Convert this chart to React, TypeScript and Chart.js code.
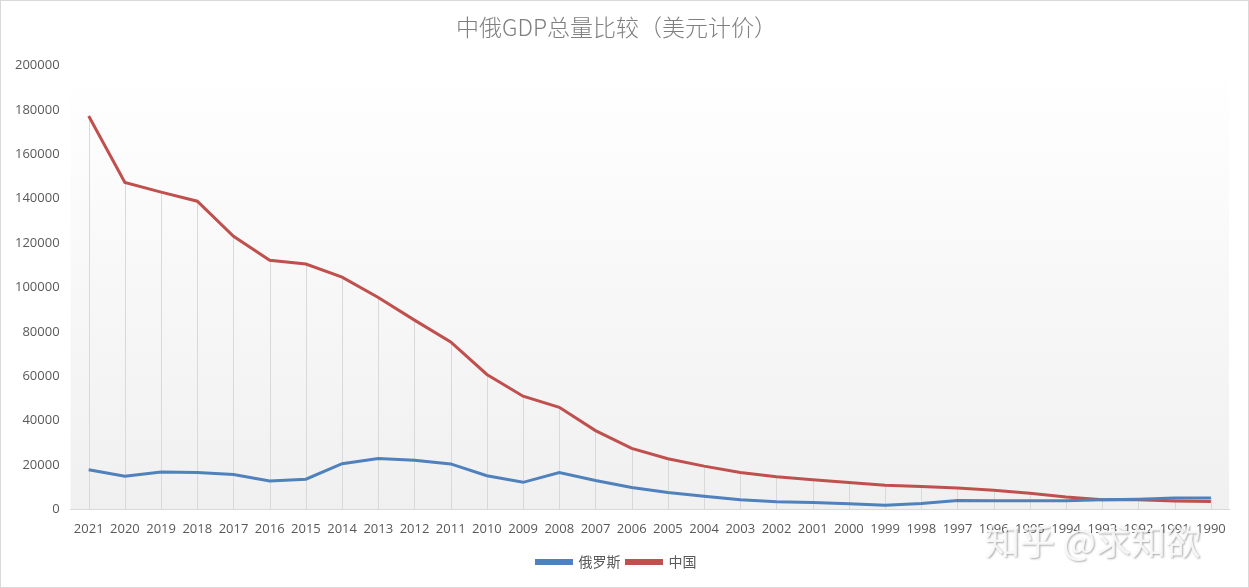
import React, { useEffect, useRef } from "react";
import { Chart, registerables } from "chart.js";

Chart.register(...registerables);

const years = [
  "2021", "2020", "2019", "2018", "2017", "2016", "2015", "2014", "2013", "2012", "2011",
  "2010", "2009", "2008", "2007", "2006", "2005", "2004", "2003", "2002", "2001", "2000",
  "1999", "1998", "1997", "1996", "1995", "1994", "1993", "1992", "1991", "1990",
];

const russia = [
  17900, 14900, 16900, 16600, 15700, 12800, 13600, 20600, 22900, 22100, 20500,
  15200, 12200, 16600, 13000, 9900, 7600, 5900, 4300, 3500, 3100, 2600,
  1900, 2700, 4000, 3900, 3950, 3950, 4300, 4600, 5150, 5150,
];

const china = [
  177300, 147300, 143000, 138900, 123100, 112300, 110600, 104700, 95500, 85300, 75500,
  60800, 51000, 46000, 35500, 27500, 22800, 19500, 16600, 14700, 13400, 12100,
  10900, 10300, 9600, 8600, 7300, 5600, 4400, 4300, 3800, 3600,
];

const yTicks = [0, 20000, 40000, 60000, 80000, 100000, 120000, 140000, 160000, 180000, 200000];

const titleText = "中俄GDP总量比较（美元计价）";
const seriesNames = ["俄罗斯", "中国"];
const watermark = "知乎 @求知欲";

const BLUE = "#4f81bd";
const RED = "#c0504d";
const TEXT = "#595959";
const LINE = "#d9d9d9";

const bgPlugin = {
  id: "plotBg",
  beforeDraw(chart: any) {
    const { ctx, chartArea } = chart;
    const g = ctx.createLinearGradient(0, chartArea.top, 0, chartArea.bottom);
    g.addColorStop(0, "#ffffff");
    g.addColorStop(1, "#f0f0f0");
    ctx.save();
    ctx.fillStyle = g;
    ctx.fillRect(chartArea.left, chartArea.top, chartArea.right - chartArea.left, chartArea.bottom - chartArea.top);
    ctx.restore();
  },
  beforeDatasetsDraw(chart: any) {
    const { ctx } = chart;
    const xs = chart.scales.x;
    const ys = chart.scales.y;
    ctx.save();
    ctx.strokeStyle = LINE;
    ctx.lineWidth = 1;
    for (let i = 0; i < years.length; i++) {
      const x = Math.round(xs.getPixelForValue(i)) + 0.5;
      const top = ys.getPixelForValue(Math.max(china[i], russia[i]));
      ctx.beginPath();
      ctx.moveTo(x, top);
      ctx.lineTo(x, ys.bottom);
      ctx.stroke();
    }
    ctx.restore();
  },
  afterDraw(chart: any) {
    const { ctx } = chart;
    ctx.save();
    ctx.font = "35px 'Noto Sans CJK SC'";
    ctx.textBaseline = "middle";
    ctx.textAlign = "left";
    ctx.shadowColor = "rgba(90,90,90,0.6)";
    ctx.shadowOffsetX = 1;
    ctx.shadowOffsetY = 1;
    ctx.shadowBlur = 2;
    ctx.fillStyle = "rgba(255,255,255,0.85)";
    ctx.fillText(watermark, 984, 541);
    ctx.restore();
  },
};

export default function App() {
  const ref = useRef<HTMLCanvasElement>(null);
  useEffect(() => {
    document.body.style.margin = "0";
    const chart = new Chart(ref.current!, {
      type: "line",
      data: {
        labels: years,
        datasets: [
          {
            label: seriesNames[0],
            data: russia,
            borderColor: BLUE,
            backgroundColor: BLUE,
            borderWidth: 3,
            pointRadius: 0,
            tension: 0,
          },
          {
            label: seriesNames[1],
            data: china,
            borderColor: RED,
            backgroundColor: RED,
            borderWidth: 3,
            pointRadius: 0,
            tension: 0,
          },
        ],
      },
      plugins: [bgPlugin],
      options: {
        animation: false,
        responsive: false,
        layout: { padding: { left: 3, right: 19, top: 0, bottom: 8 } },
        plugins: {
          title: {
            display: true,
            text: titleText,
            color: "#7f7f7f",
            font: { family: "'Noto Sans CJK SC'", size: 23, weight: "300" as any },
            padding: { top: 12, bottom: 25 },
          },
          legend: {
            position: "bottom",
            labels: {
              color: TEXT,
              font: { family: "'Noto Sans CJK SC'", size: 14 },
              boxWidth: 35,
              boxHeight: 3,
              padding: 6,
            },
          },
          tooltip: { enabled: false },
        },
        scales: {
          x: {
            type: "category",
            offset: true,
            grid: { display: false, drawTicks: false },
            border: { display: true, color: LINE, width: 1 },
            ticks: {
              color: TEXT,
              font: { family: "'Open Sans'", size: 13 },
              maxRotation: 0,
              autoSkip: false,
              padding: 12,
            },
          },
          y: {
            min: 0,
            max: 200000,
            afterBuildTicks(scale: any) {
              scale.ticks = yTicks.map((v) => ({ value: v }));
            },
            grid: { display: false, drawTicks: false },
            border: { display: false },
            ticks: {
              color: TEXT,
              font: { family: "'Open Sans'", size: 13 },
              padding: 11,
              callback: (v: any) => String(v),
            },
          },
        },
      },
    });
    return () => chart.destroy();
  }, []);
  return (
    <div
      style={{
        position: "absolute",
        left: 0,
        top: 0,
        width: 1249,
        height: 588,
        boxSizing: "border-box",
        border: "1px solid #d9d9d9",
        background: "#fff",
      }}
    >
      <canvas ref={ref} width={1247} height={586} style={{ display: "block" }} />
    </div>
  );
}
